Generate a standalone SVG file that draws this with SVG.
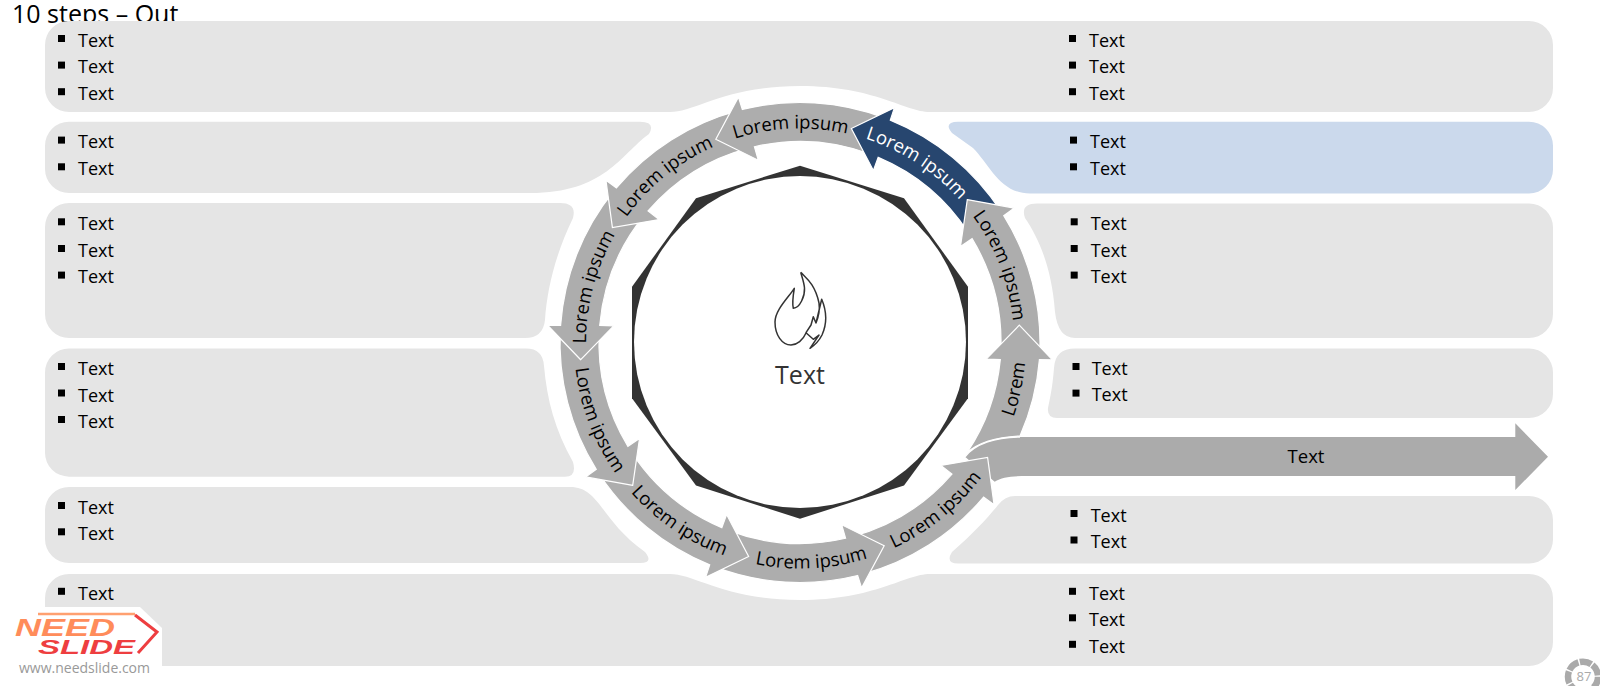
<svg xmlns="http://www.w3.org/2000/svg" width="1600" height="686" viewBox="0 0 1600 686">
<style>
text{font-family:"Open Sans","Noto Sans","Liberation Sans",sans-serif;fill:#000}
.p{fill:#e5e5e5}
.t{font-size:18px}
.b{fill:#000}
.a{fill:#adadad;stroke:#fff;stroke-width:1.2;stroke-linejoin:miter}
.l{font-size:18.5px;text-anchor:middle}
</style>
<defs>
<path id="arrow" d="M0,-220 L37,-250.3 L35.9,-237.3 A240 240 0 0 1 165.2,-174.1 L138.4,-145.8 A201 201 0 0 0 32.8,-198.3 L31.2,-184.4 Z"/>
<path id="cw" d="M-92.1,-193.2 A214 214 0 0 1 193.2,-92.1"/>
<path id="ccw" d="M204,-97.3 A226 226 0 0 0 -97.3,-204"/>
<rect id="bu" width="7" height="7"/>
</defs>
<rect width="1600" height="686" fill="#fff"/>
<text x="12" y="22.5" style="font-size:25px">10 steps – Out</text>

<g id="panel-top">
<path class="p" d="M69,21 H1529 a24,24 0 0 1 24,24 V88 a24,24 0 0 1 -24,24 H930 C905,112 875,86 800,86 C725,86 695,112 670,112 H69 a24,24 0 0 1 -24,-24 V45 a24,24 0 0 1 24,-24 Z"/>
<use href="#bu" x="58" y="35"/><use href="#bu" x="58" y="61.6"/><use href="#bu" x="58" y="88.2"/>
<text class="t" x="78" y="46.7">Text</text><text class="t" x="78" y="73.3">Text</text><text class="t" x="78" y="100">Text</text>
<use href="#bu" x="1069" y="35"/><use href="#bu" x="1069" y="61.6"/><use href="#bu" x="1069" y="88.2"/>
<text class="t" x="1089" y="46.7">Text</text><text class="t" x="1089" y="73.3">Text</text><text class="t" x="1089" y="100">Text</text>
</g>
<g id="panel-left-2">
<path class="p" d="M69,121.7 H640 Q656,122 649,134 C620,155 605,193 530,193 H69 a24,24 0 0 1 -24,-24 V145.7 a24,24 0 0 1 24,-24 Z"/>
<use href="#bu" x="58" y="136.6"/><use href="#bu" x="58" y="163.3"/>
<text class="t" x="78" y="148.3">Text</text><text class="t" x="78" y="175">Text</text>
</g>
<g id="panel-left-3">
<path class="p" d="M69,203 H560 Q577,203 573,218 C555,255 547,290 545,320 Q543,338 525,338 H69 a24,24 0 0 1 -24,-24 V227 a24,24 0 0 1 24,-24 Z"/>
<use href="#bu" x="58" y="218.3"/><use href="#bu" x="58" y="245"/><use href="#bu" x="58" y="271.6"/>
<text class="t" x="78" y="230">Text</text><text class="t" x="78" y="256.7">Text</text><text class="t" x="78" y="283.3">Text</text>
</g>
<g id="panel-left-4">
<path class="p" d="M69,348.5 H525 Q543,348 544,366 C547,400 555,430 573,462 Q577,476.7 565,476.7 H69 a24,24 0 0 1 -24,-24 V372.5 a24,24 0 0 1 24,-24 Z"/>
<use href="#bu" x="58" y="363"/><use href="#bu" x="58" y="389.5"/><use href="#bu" x="58" y="416"/>
<text class="t" x="78" y="375">Text</text><text class="t" x="78" y="401.5">Text</text><text class="t" x="78" y="428">Text</text>
</g>
<g id="panel-left-5">
<path class="p" d="M69,487 H570 C600,487 600,520 645,552 Q654,563 640,563 H69 a24,24 0 0 1 -24,-24 V511 a24,24 0 0 1 24,-24 Z"/>
<use href="#bu" x="58" y="502"/><use href="#bu" x="58" y="528.3"/>
<text class="t" x="78" y="513.7">Text</text><text class="t" x="78" y="540">Text</text>
</g>
<g id="panel-bottom">
<path class="p" d="M69,574 H670 C695,574 725,600 800,600 C875,600 905,574 930,574 H1529 a24,24 0 0 1 24,24 V642 a24,24 0 0 1 -24,24 H69 a24,24 0 0 1 -24,-24 V598 a24,24 0 0 1 24,-24 Z"/>
<use href="#bu" x="58" y="587.8"/>
<text class="t" x="78" y="599.5">Text</text>
<use href="#bu" x="1069" y="587.8"/><use href="#bu" x="1069" y="614.3"/><use href="#bu" x="1069" y="640.8"/>
<text class="t" x="1089" y="599.5">Text</text><text class="t" x="1089" y="626">Text</text><text class="t" x="1089" y="652.5">Text</text>
</g>
<g id="panel-right-2">
<path d="M958,121.7 H1529 a24,24 0 0 1 24,24 V169.5 a24,24 0 0 1 -24,24 H1030 C1000,193.5 990,165 973,148 L952,133 Q943,122 958,121.7 Z" fill="#cbd9ec"/>
<use href="#bu" x="1070" y="136.6"/><use href="#bu" x="1070" y="163.3"/>
<text class="t" x="1090" y="148.3">Text</text><text class="t" x="1090" y="175">Text</text>
</g>
<g id="panel-right-3">
<path class="p" d="M1037,203.5 H1529 a24,24 0 0 1 24,24 V314 a24,24 0 0 1 -24,24 H1075 Q1058,338 1055,312 C1052,270 1040,240 1025,218 Q1020,203.5 1037,203.5 Z"/>
<use href="#bu" x="1070.7" y="218.3"/><use href="#bu" x="1070.7" y="245"/><use href="#bu" x="1070.7" y="271.6"/>
<text class="t" x="1090.7" y="230">Text</text><text class="t" x="1090.7" y="256.7">Text</text><text class="t" x="1090.7" y="283.3">Text</text>
</g>
<g id="panel-right-4">
<path class="p" d="M1075,348.5 H1529 a24,24 0 0 1 24,24 V394 a24,24 0 0 1 -24,24 H1057 Q1047,418 1048,408 C1052,390 1053,380 1054,368 Q1055,348.5 1075,348.5 Z"/>
<use href="#bu" x="1072.5" y="363"/><use href="#bu" x="1072.5" y="389.6"/>
<text class="t" x="1091.7" y="374.7">Text</text><text class="t" x="1091.7" y="401.3">Text</text>
</g>
<g id="panel-right-5">
<path class="p" d="M1015,496 H1529 a24,24 0 0 1 24,24 V539.5 a24,24 0 0 1 -24,24 H958 Q945,563 952,552 C975,532 990,515 998,505 Q1005,496 1015,496 Z"/>
<use href="#bu" x="1070.5" y="510"/><use href="#bu" x="1070.5" y="536.5"/>
<text class="t" x="1090.7" y="521.7">Text</text><text class="t" x="1090.7" y="548">Text</text>
</g>

<g id="hub">
<polygon points="800,165.7 904,198.3 968,286.7 968,398.3 904,485.5 800,518.7 696,485.5 632,398.3 632,286.7 696,198.3" fill="#333"/>
<circle cx="800" cy="342" r="166" fill="#fff"/>
<path d="M800.7,272.3 C806,278 815,284 819,303 C820,310 818,318 816,323 L821.7,299.3 C827,312 827,324 822,335 C819,341 815,345 810,348.3 L819,335 L813.3,339.3 L806,332.7 L811,325 L813.3,316.7 L816,323 M806,333 C803,340 797,345 791,345 C782,345 775,335 775,322 C775,310 788,298 794.3,288.3 C793,296 792,303 793.3,308.3 C800,308 805,296 804.5,288 C804,282 802,277 800.7,272.3" fill="none" stroke="#333" stroke-width="1.5" stroke-linejoin="round"/>
<text x="800" y="384" text-anchor="middle" style="font-size:25px;fill:#333">Text</text>
</g>

<g id="connectors">
<g id="arrow-out">
<path d="M965,456.7 C975,444 995,437 1020,437 H1515.3 V423.3 L1548,456.7 L1515.3,490 V476 H1028 C1012,476 1002,477 994.7,481.7 Z" fill="#ababab"/>
<path d="M965,456.7 C975,444 995,437 1020,437" fill="none" stroke="#fff" stroke-width="1.5"/>
<text class="l" x="1306" y="463">Text</text>
</g>
<g id="arrow-9" transform="translate(800 342.5) rotate(121.5)"><use href="#arrow" class="a"/><text class="l"><textPath href="#ccw" startOffset="50%">Lorem ipsum</textPath></text></g>
<g id="arrow-8" transform="translate(800 342.5) rotate(157.5)"><use href="#arrow" class="a"/><text class="l"><textPath href="#ccw" startOffset="50%">Lorem ipsum</textPath></text></g>
<g id="arrow-7" transform="translate(800 342.5) rotate(193.5)"><use href="#arrow" class="a"/><g transform="rotate(1)"><text class="l"><textPath href="#ccw" startOffset="50%">Lorem ipsum</textPath></text></g></g>
<g id="arrow-6" transform="translate(800 342.5) rotate(229.5)"><use href="#arrow" class="a"/><text class="l"><textPath href="#ccw" startOffset="50%">Lorem ipsum</textPath></text></g>
<g id="arrow-5" transform="translate(800 342.5) rotate(265.5)"><use href="#arrow" class="a"/><text class="l"><textPath href="#cw" startOffset="50%">Lorem ipsum</textPath></text></g>
<g id="arrow-4" transform="translate(800 342.5) rotate(301.5)"><use href="#arrow" class="a"/><text class="l"><textPath href="#cw" startOffset="50%">Lorem ipsum</textPath></text></g>
<g id="arrow-3" transform="translate(800 342.5) rotate(337.5)"><use href="#arrow" class="a"/><g transform="rotate(0.5)"><text class="l"><textPath href="#cw" startOffset="50%">Lorem ipsum</textPath></text></g></g>
<g id="arrow-2" transform="translate(800 342.5) rotate(13.5)"><use href="#arrow" class="a" style="fill:#27466f"/><text class="l" style="fill:#fff"><textPath href="#cw" startOffset="50%">Lorem ipsum</textPath></text></g>
<g id="arrow-1" transform="translate(800 342.5) rotate(49.5)"><use href="#arrow" class="a"/><text class="l"><textPath href="#cw" startOffset="50%">Lorem ipsum</textPath></text></g>
<g id="arrow-0">
<path class="a" d="M1019.3,325.2 L1052.4,359.8 L1039.4,359.7 A240 240 0 0 1 1020,436 C995,437 978,443 967,452.7 A201 201 0 0 0 1000.3,359.6 L986.2,359.1 Z"/>
<g transform="translate(800 342.5) rotate(82.7)"><text class="l"><textPath href="#ccw" startOffset="50%">Lorem</textPath></text></g>
</g>
</g>

<g id="logo">
<polygon points="0,607 140,607 162,628 162,686 0,686" fill="#fff"/>
<path d="M38,614 H135" fill="none" stroke="#ffa070" stroke-width="2.5"/>
<path d="M135,615 L157,632 L138,653" fill="none" stroke="#ee3e40" stroke-width="3"/>
<text x="15" y="636" textLength="100" lengthAdjust="spacingAndGlyphs" style="font-family:'Liberation Sans',sans-serif;font-style:italic;font-weight:bold;font-size:23px;fill:#ff8c5a">NEED</text>
<text x="38" y="654" textLength="97" lengthAdjust="spacingAndGlyphs" style="font-family:'Liberation Sans',sans-serif;font-style:italic;font-weight:bold;font-size:20px;fill:#ee3e40">SLIDE</text>
<text x="19" y="673" textLength="131" lengthAdjust="spacingAndGlyphs" style="font-size:14px;fill:#999">www.needslide.com</text>
</g>
<g id="page-number">
<circle cx="1583" cy="676.7" r="15" fill="none" stroke="#aaa" stroke-width="6.5" stroke-dasharray="12 1.4"/>
<text x="1584" y="681" text-anchor="middle" style="font-size:13px;fill:#aaa">87</text>
</g>
</svg>
